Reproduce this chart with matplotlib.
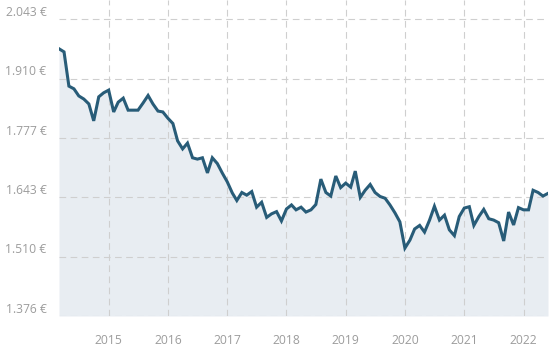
import numpy as np
import pandas as pd
import matplotlib
matplotlib.use("Agg")
import matplotlib.pyplot as plt
import matplotlib.dates as mdates
from matplotlib.transforms import ScaledTranslation

# --- Data (monthly, Mar 2014 - Jun 2022) ---
start_month = "2014-03-01"
prices = [
    1977, 1970, 1893, 1887, 1871, 1864, 1853, 1815, 1869, 1878,
    1884, 1835, 1857, 1866, 1839, 1839, 1839, 1855, 1872, 1853,
    1837, 1835, 1821, 1809, 1770, 1752, 1765, 1732, 1729, 1732,
    1698, 1732, 1719, 1698, 1678, 1653, 1636, 1654, 1648, 1656,
    1621, 1632, 1598, 1606, 1611, 1590, 1617, 1626, 1615, 1621,
    1610, 1615, 1627, 1684, 1654, 1646, 1691, 1665, 1675, 1666,
    1702, 1643, 1659, 1672, 1654, 1645, 1641, 1626, 1608, 1588,
    1529, 1547, 1572, 1580, 1565, 1592, 1623, 1592, 1603, 1570,
    1557, 1600, 1619, 1622, 1580, 1600, 1616, 1595, 1592, 1586,
    1545, 1610, 1581, 1620, 1615, 1615, 1659, 1654, 1646, 1652,
]
dates = pd.date_range(start_month, periods=len(prices), freq="MS")

y_ticks = [1376.4, 1509.8, 1643.1, 1776.5, 1909.8, 2043.2]
y_labels = ["1.376 €", "1.510 €", "1.643 €", "1.777 €", "1.910 €", "2.043 €"]
year_ticks = [2015, 2016, 2017, 2018, 2019, 2020, 2021, 2022]

line_color = "#285c78"
fill_color = "#e8edf2"
grid_color = "#cfcfcf"
text_color = "#9c9c9c"

plt.rcParams["font.family"] = ["Open Sans", "DejaVu Sans"]

fig = plt.figure(figsize=(5.54, 3.55), dpi=100)
ax = fig.add_axes([59 / 554, 39 / 355, 489 / 554, 316 / 355])

y_bottom = 1376.4
y_top = 2086.6

ax.fill_between(dates, prices, y_bottom, color=fill_color, lw=0, zorder=1)
ax.plot(dates, prices, color=line_color, lw=2.2, zorder=3,
        solid_joinstyle="miter")

ax.set_xlim(dates[0], dates[-1])
ax.set_ylim(y_bottom, y_top)

ax.set_yticks(y_ticks)
ax.set_yticklabels(y_labels)
ax.set_xticks([pd.Timestamp(f"{y}-01-01") for y in year_ticks])
ax.xaxis.set_major_formatter(mdates.DateFormatter("%Y"))

ax.grid(True, axis="both", color=grid_color, lw=0.8,
        linestyle=(0, (6, 4)), zorder=2)
ax.set_axisbelow(False)
for s in ax.spines.values():
    s.set_visible(False)

ax.tick_params(axis="both", length=0, labelsize=8.7, labelcolor=text_color)
ax.tick_params(axis="y", pad=9)
ax.tick_params(axis="x", pad=13)

# y labels sit a little above their grid lines
offset = ScaledTranslation(0, 6 / 72, fig.dpi_scale_trans)
for lab in ax.get_yticklabels():
    lab.set_transform(lab.get_transform() + offset)

fig.savefig("out.png", dpi=100, facecolor="white")
